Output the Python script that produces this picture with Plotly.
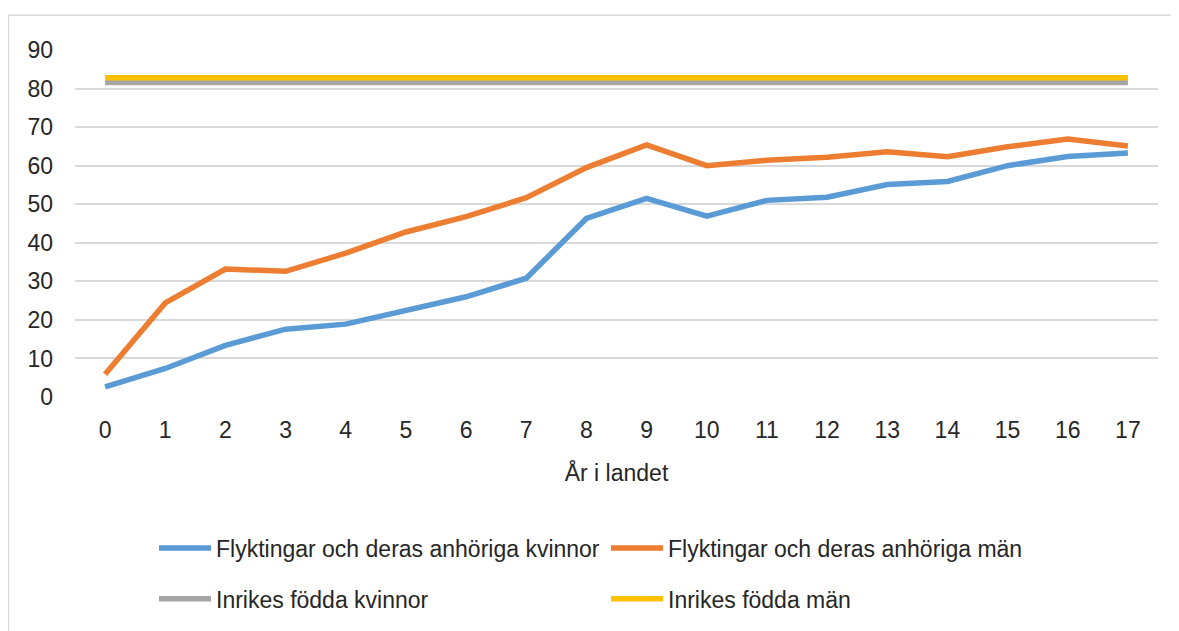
import plotly.graph_objects as go

years = list(range(18))
flyk_kvinnor = [2.6, 7.4, 13.4, 17.6, 18.9, 22.3, 26.0, 30.8, 46.3, 51.5, 46.9, 51.0, 51.8, 55.1, 55.9, 60.0, 62.4, 63.3]
flyk_man = [5.9, 24.4, 33.2, 32.6, 37.3, 42.8, 46.8, 51.7, 59.5, 65.4, 60.0, 61.4, 62.2, 63.6, 62.3, 64.9, 66.9, 65.1]
inrikes_kvinnor = [81.6] * 18
inrikes_man = [82.8] * 18

names = ["Flyktingar och deras anhöriga kvinnor", "Flyktingar och deras anhöriga män",
         "Inrikes födda kvinnor", "Inrikes födda män"]
colors = ["#5B9BD5", "#ED7D31", "#A5A5A5", "#FFC000"]
series = [flyk_kvinnor, flyk_man, inrikes_kvinnor, inrikes_man]
legends = ["legend", "legend", "legend2", "legend2"]

FONT = "Liberation Sans"
TXT = "#262626"

fig = go.Figure()
order = [2, 3, 0, 1]
for i in order:
    fig.add_trace(go.Scatter(
        x=years, y=series[i], mode="lines", name=names[i],
        line=dict(color=colors[i], width=5.5),
        legend=legends[i],
    ))

# page has an 8px body margin; figure coords = page coords - 8
OFF = 8
W, H = 1179 - OFF, 631 - OFF
L = 75 - OFF
T = 49.5 - OFF
R = W - (1158 - OFF)
B = H - (398.5 - OFF)
ph = H - T - B
pw = W - L - R


def py(page_y):
    return (H - B - (page_y - OFF)) / ph


def px(page_x):
    return (page_x - OFF - L) / pw


fig.update_layout(
    width=W, height=H,
    margin=dict(l=L, r=R, t=T, b=B),
    paper_bgcolor="white", plot_bgcolor="white",
    font=dict(family=FONT, size=23, color=TXT),
    xaxis=dict(
        range=[-0.5, 17.5], tickmode="array", tickvals=years,
        ticktext=[str(y) for y in years], showgrid=False, zeroline=False,
        showline=False, ticks="", ticklabelstandoff=17,
        tickfont=dict(size=23, color=TXT),
        title=dict(text="År i landet", font=dict(size=23, color=TXT), standoff=22),
    ),
    yaxis=dict(
        range=[0, 90], tickmode="array", tickvals=list(range(0, 100, 10)),
        showgrid=True, gridcolor="#D9D9D9", gridwidth=1.5,
        zeroline=False, showline=False, ticks="", ticklabelstandoff=21,
        tickfont=dict(size=23, color=TXT),
    ),
    legend=dict(
        orientation="h", x=px(154), xanchor="left",
        y=py(549), yanchor="middle",
        entrywidth=385, itemwidth=52,
        font=dict(size=23, color=TXT), traceorder="normal",
        bgcolor="rgba(0,0,0,0)",
    ),
    legend2=dict(
        orientation="h", x=px(154), xanchor="left",
        y=py(600), yanchor="middle",
        entrywidth=385, itemwidth=52,
        font=dict(size=23, color=TXT), traceorder="normal",
        bgcolor="rgba(0,0,0,0)",
    ),
    showlegend=True,
)

fig.add_shape(
    type="rect", xref="paper", yref="paper",
    x0=px(8.5), x1=px(1177),
    y0=py(650), y1=py(14.5),
    line=dict(color="#D9D9D9", width=1.5), fillcolor="rgba(0,0,0,0)", layer="below",
)

fig.write_html("out.html")
